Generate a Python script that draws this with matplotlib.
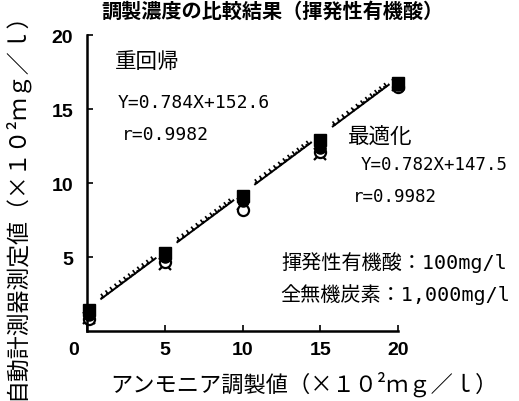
import numpy as np
import matplotlib
matplotlib.use("Agg")
from matplotlib import pyplot as plt
from matplotlib import patheffects
from matplotlib.transforms import ScaledTranslation

plt.rcParams['font.family'] = ['Noto Sans CJK JP', 'DejaVu Sans']

# prepared concentration (x100 mg/l) and measured values for each run
conc = [0.1, 5, 10, 15, 20]
run_sq = [1.4, 5.3, 9.1, 12.9, 16.8]
run_dot = [1.1, 5.0, 8.8, 12.4, 16.6]
run_open = [0.8, 4.7, 8.2, 12.1, 16.5]
run_x = [0.9, 4.5, 8.6, 12.0, 16.6]

# regression results (slope, intercept in mg/l)
mreg = (0.784, 152.6)
opt = (0.782, 147.5)
r_val = 0.9982

xticks = [0, 5, 10, 15, 20]
yticks = [5, 10, 15, 20]

fig = plt.figure(figsize=(5.19, 4.02), dpi=100)
ax = fig.add_axes([0.168, 0.174, 0.599, 0.736])

def seg_line(a, b, **kw):
    # draw line in pieces, leaving gaps around the measured points
    xs = conc
    for i in range(len(xs) - 1):
        x0, x1 = xs[i] + 0.8, xs[i + 1] - 0.6
        xx = np.array([x0, x1])
        ax.plot(xx, a * xx + b / 100, **kw)

seg_line(*opt, color='black', lw=1.4,
         path_effects=[patheffects.withTickedStroke(spacing=4, angle=90, length=0.6, linewidth=1.2)])
seg_line(*mreg, color='black', lw=1.3, ls=(0, (1, 2.5)))

ms = 8
ax.plot(conc, run_x, 'x', color='black', ms=ms, mew=1.6, ls='none', clip_on=False)
ax.plot(conc, run_open, 'o', mfc='white', mec='black', ms=ms, mew=1.6, ls='none', clip_on=False)
ax.plot(conc, run_dot, 'o', color='black', ms=ms, ls='none', clip_on=False)
ax.plot(conc, run_sq, 's', color='black', ms=ms, ls='none', clip_on=False)

ax.set_xlim(0, 20)
ax.set_ylim(0, 20)
ax.spines['top'].set_visible(False)
ax.spines['right'].set_visible(False)
ax.spines['left'].set_linewidth(1.8)
ax.spines['bottom'].set_linewidth(1.8)
ax.set_xticks(xticks)
ax.set_yticks(yticks)
ax.tick_params(direction='in', length=4, width=1.2)
ax.tick_params(axis='x', pad=7)
ax.tick_params(axis='y', pad=10)
for lab in ax.get_xticklabels() + ax.get_yticklabels():
    lab.set_family('Liberation Sans')
    lab.set_fontweight('bold')
    lab.set_fontsize(14)
# origin label sits to the left of the corner
xl0 = ax.get_xticklabels()[0]
xl0.set_transform(xl0.get_transform() + ScaledTranslation(-0.14, 0, fig.dpi_scale_trans))

fig.text(0.525, 0.972, '調製濃度の比較結果（揮発性有機酸）', ha='center', va='center',
         fontsize=14.5, fontweight='bold')
fig.text(0.585, 0.045, 'アンモニア調製値（×１０²ｍｇ／ｌ）', ha='center', va='center', fontsize=16)
fig.text(0.03, 0.50, '自動計測器測定値（×１０²ｍｇ／ｌ）', ha='center', va='center',
         rotation=90, fontsize=16.5)

eq_font = ['DejaVu Sans Mono', 'Noto Sans CJK JP']
fig.text(0.222, 0.846, '重回帰', fontsize=15.5, va='center')
fig.text(0.227, 0.744, 'Y=%.3fX+%.1f' % mreg, fontsize=13, va='center', family=eq_font)
fig.text(0.235, 0.664, 'r=%.4f' % r_val, fontsize=13, va='center', family=eq_font)
fig.text(0.671, 0.657, '最適化', fontsize=15.5, va='center')
fig.text(0.694, 0.590, 'Y=%.3fX+%.1f' % opt, fontsize=12.5, va='center', family=eq_font)
fig.text(0.680, 0.510, 'r=%.4f' % r_val, fontsize=12.5, va='center', family=eq_font)
fig.text(0.543, 0.346, '揮発性有機酸：100mg/l', fontsize=14.5, va='center', family=eq_font)
fig.text(0.540, 0.268, '全無機炭素：1,000mg/l', fontsize=14.5, va='center', family=eq_font)

fig.savefig('out.png', dpi=100)
